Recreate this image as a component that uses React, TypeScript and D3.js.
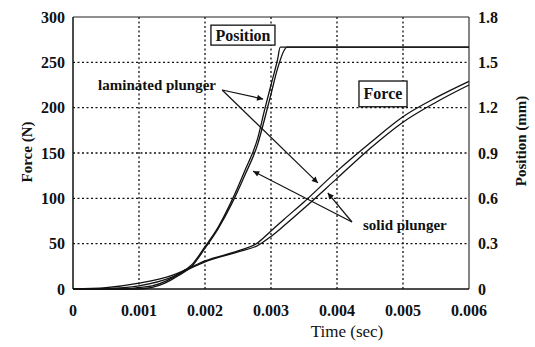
import * as d3 from 'd3';

const W = 535;
const H = 347;
const plot = { left: 73, right: 469, top: 17, bottom: 289 };

// time axis ticks / grid
const timeTicks = [0, 0.001, 0.002, 0.003, 0.004, 0.005, 0.006];
const forceTicks = [0, 50, 100, 150, 200, 250, 300];
const posTicks = [0, 0.3, 0.6, 0.9, 1.2, 1.5, 1.8];

// position curves (mm)
const lamPosT = [0, 0.0008, 0.001, 0.0012, 0.0014, 0.0016, 0.0018, 0.002, 0.0022, 0.0024, 0.0026, 0.0028, 0.0029, 0.003, 0.0031, 0.00314, 0.006];
const lamPos = [0, 0, 0.01, 0.02, 0.05, 0.1, 0.16, 0.28, 0.41, 0.58, 0.78, 1.0, 1.18, 1.35, 1.52, 1.6, 1.6];
const solidPosT = [0, 0.0008, 0.001, 0.0012, 0.0014, 0.0016, 0.0018, 0.002, 0.0022, 0.0024, 0.0026, 0.0028, 0.0029, 0.003, 0.0031, 0.0032, 0.00324, 0.006];
const solidPos = [0, 0, 0, 0.01, 0.04, 0.09, 0.15, 0.27, 0.4, 0.56, 0.75, 0.96, 1.12, 1.29, 1.46, 1.58, 1.6, 1.6];

// force curves (N)
const forceT = [0, 0.0005, 0.001, 0.0015, 0.0017, 0.002, 0.0025, 0.0028, 0.003, 0.0032, 0.0035, 0.004, 0.0045, 0.005, 0.0055, 0.006];
const lamForce = [0, 1.5, 6.5, 15, 21, 31, 42, 51, 64, 77, 96, 130, 161, 190, 211, 229];
const solidForce = [0, 0.5, 3.5, 13, 20, 30, 41, 48, 58, 70, 89, 122, 155, 184, 206, 225];

// annotations, in (time, force) units
const lamLabel = { t: 0.00038, f: 225, text: 'laminated plunger' };
const lamArrows = [
  { from: [0.00226, 219.5], to: [0.00288, 209.5] },
  { from: [0.00226, 219.5], to: [0.00371, 117] },
];
const solidLabel = { t: 0.004394, f: 70.6, text: 'solid plunger' };
const solidArrows = [
  { from: [0.004227, 73.9], to: [0.00386, 106] },
  { from: [0.004227, 73.9], to: [0.00273, 130] },
];
const boxes = [
  { text: 'Position', t0: 0.00209, t1: 0.00306, f0: 291, f1: 269 },
  { text: 'Force', t0: 0.004333, t1: 0.005061, f0: 229.4, f1: 201 },
];

const serif = '"Liberation Serif", "Times New Roman", serif';

export default function App() {
  const x = d3.scaleLinear().domain([0, 0.006]).range([plot.left, plot.right]);
  const yF = d3.scaleLinear().domain([0, 300]).range([plot.bottom, plot.top]);
  const yP = d3.scaleLinear().domain([0, 1.8]).range([plot.bottom, plot.top]);

  const line = d3.line<[number, number]>().x(d => d[0]).y(d => d[1]).curve(d3.curveMonotoneX);

  const posPath = (ts: number[], vs: number[]) => line(ts.map((t, i) => [x(t), yP(vs[i])]))!;
  const forcePath = (ts: number[], vs: number[]) => line(ts.map((t, i) => [x(t), yF(vs[i])]))!;

  const curves = [
    posPath(lamPosT, lamPos),
    posPath(solidPosT, solidPos),
    forcePath(forceT, lamForce),
    forcePath(forceT, solidForce),
  ];

  const arrows = [...lamArrows, ...solidArrows];

  return (
    <svg width={W} height={H} style={{ position: 'absolute', left: 0, top: 0, background: '#fff' }}>
      <defs>
        <marker id="head" viewBox="0 0 10 10" refX="10" refY="5" markerWidth="8" markerHeight="6" orient="auto" markerUnits="userSpaceOnUse">
          <path d="M0,0 L10,5 L0,10 z" fill="#111" />
        </marker>
      </defs>

      {/* grid */}
      {timeTicks.slice(1, -1).map(t => (
        <line key={'gx' + t} x1={x(t)} x2={x(t)} y1={plot.top} y2={plot.bottom} stroke="#111" strokeWidth={1.3} strokeDasharray="2,2.5" />
      ))}
      {forceTicks.slice(1, -1).map(f => (
        <line key={'gy' + f} x1={plot.left} x2={plot.right} y1={yF(f)} y2={yF(f)} stroke="#111" strokeWidth={1.3} strokeDasharray="2,2.5" />
      ))}

      {/* frame */}
      <line x1={plot.left} x2={plot.right} y1={plot.top} y2={plot.top} stroke="#222" strokeWidth={1.1} />
      <line x1={plot.left} x2={plot.left} y1={plot.top} y2={plot.bottom} stroke="#111" strokeWidth={1.5} />
      <line x1={plot.right} x2={plot.right} y1={plot.top} y2={plot.bottom} stroke="#222" strokeWidth={1.1} />
      <line x1={plot.left} x2={plot.right} y1={plot.bottom} y2={plot.bottom} stroke="#111" strokeWidth={1.6} />

      {/* curves */}
      {curves.map((d, i) => (
        <path key={'c' + i} d={d} fill="none" stroke="#111" strokeWidth={1.3} />
      ))}

      {/* arrows */}
      {arrows.map((a, i) => (
        <line key={'a' + i} x1={x(a.from[0])} y1={yF(a.from[1])} x2={x(a.to[0])} y2={yF(a.to[1])} stroke="#111" strokeWidth={1.2} markerEnd="url(#head)" />
      ))}

      {/* annotation labels */}
      {[lamLabel, solidLabel].map(l => (
        <text key={l.text} x={x(l.t)} y={yF(l.f)} dy="0.35em" fontFamily={serif} fontSize={15} fontWeight="bold" fill="#111">
          {l.text}
        </text>
      ))}

      {/* boxed labels */}
      {boxes.map(b => (
        <g key={b.text}>
          <rect x={x(b.t0)} y={yF(b.f0)} width={x(b.t1) - x(b.t0)} height={yF(b.f1) - yF(b.f0)} fill="#fff" stroke="#111" strokeWidth={1.3} />
          <text x={(x(b.t0) + x(b.t1)) / 2} y={(yF(b.f0) + yF(b.f1)) / 2} dy="0.35em" textAnchor="middle" fontFamily={serif} fontSize={16} fontWeight="bold" fill="#111">
            {b.text}
          </text>
        </g>
      ))}

      {/* left ticks */}
      {forceTicks.map(f => (
        <text key={'lf' + f} x={plot.left - 8} y={yF(f)} dy="0.35em" textAnchor="end" fontFamily={serif} fontSize={16} fontWeight="bold" fill="#111">
          {f}
        </text>
      ))}
      {/* right ticks */}
      {posTicks.map(p => (
        <text key={'rp' + p} x={plot.right + 9} y={yP(p)} dy="0.35em" textAnchor="start" fontFamily={serif} fontSize={16} fontWeight="bold" fill="#111">
          {p === 0 ? '0' : p.toFixed(1)}
        </text>
      ))}
      {/* bottom ticks */}
      {timeTicks.map(t => (
        <text key={'bt' + t} x={x(t)} y={310} dy="0.35em" textAnchor="middle" fontFamily={serif} fontSize={16} fontWeight="bold" fill="#111">
          {t === 0 ? '0' : t.toFixed(3)}
        </text>
      ))}

      {/* axis titles */}
      <text transform="translate(27,152) rotate(-90)" dy="0.35em" textAnchor="middle" fontFamily={serif} fontSize={15} fontWeight="bold" fill="#111">
        Force (N)
      </text>
      <text transform="translate(521,141) rotate(-90)" dy="0.35em" textAnchor="middle" fontFamily={serif} fontSize={15} fontWeight="bold" fill="#111">
        Position (mm)
      </text>
      <text x={347} y={331} dy="0.35em" textAnchor="middle" fontFamily={serif} fontSize={17} fill="#111">
        Time (sec)
      </text>
    </svg>
  );
}
